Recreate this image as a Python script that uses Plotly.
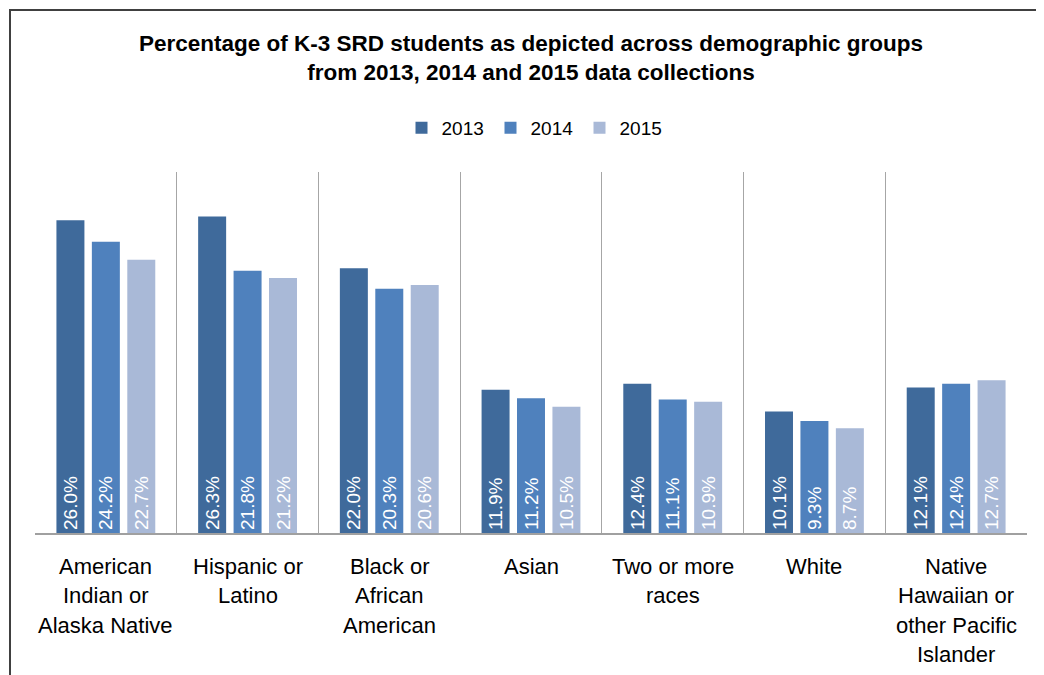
import plotly.graph_objects as go

categories = [
    "American<br>Indian or<br>Alaska Native",
    "Hispanic or<br>Latino",
    "Black or<br>African<br>American",
    "Asian",
    "Two or more<br>races",
    "White",
    "Native<br>Hawaiian or<br>other Pacific<br>Islander",
]
years = ["2013", "2014", "2015"]
values_2013 = [26.0, 26.3, 22.0, 11.9, 12.4, 10.1, 12.1]
values_2014 = [24.2, 21.8, 20.3, 11.2, 11.1, 9.3, 12.4]
values_2015 = [22.7, 21.2, 20.6, 10.5, 10.9, 8.7, 12.7]
colors = ["#3F6A9B", "#4F81BD", "#A9B9D7"]

# page body has an 8px margin, so the figure is sized to fit the window
OFF = 8
W, H = 1044 - OFF, 675 - OFF
ML, MR, MT, MB = 35 - OFF, 17, 172 - OFF, 142
FONT = "Liberation Sans, Arial, sans-serif"

fig = go.Figure()
for name, vals, col in zip(years, [values_2013, values_2014, values_2015], colors):
    fig.add_trace(go.Bar(
        name=name,
        x=categories,
        y=vals,
        marker=dict(color=col, line=dict(width=0)),
        text=[f"{v:.1f}%" for v in vals],
        textposition="inside",
        insidetextanchor="start",
        textangle=-90,
        textfont=dict(color="white", size=19, family=FONT),
        hoverinfo="skip",
    ))

pw = W - ML - MR
ph = H - MT - MB

# category labels, one annotation per line for Excel-like line spacing
annotations = []
LINE_GAP = 29.6
FIRST_LINE = 566 - 533  # px below the axis
for cat in categories:
    for i, line in enumerate(cat.split("<br>")):
        annotations.append(dict(
            x=cat, xref="x", y=0, yref="paper",
            text=line, showarrow=False,
            xanchor="center", yanchor="middle",
            yshift=-(FIRST_LINE + LINE_GAP * i),
            font=dict(size=22, family=FONT, color="#000000"),
        ))

fig.update_layout(
    width=W, height=H,
    margin=dict(l=ML, r=MR, t=MT, b=MB),
    paper_bgcolor="white",
    plot_bgcolor="white",
    barmode="group",
    bargap=0.25,
    bargroupgap=0.21,
    font=dict(family=FONT, color="#000000"),
    title=dict(
        text="<b>Percentage of K-3 SRD students as depicted across demographic groups<br>from 2013, 2014 and 2015 data collections</b>",
        x=(531 - OFF) / W, xanchor="center",
        y=1 - (51 - OFF) / H, yanchor="middle",
        font=dict(size=22.5, family=FONT, color="#000000"),
    ),
    legend=dict(
        orientation="h",
        x=(535 - OFF - ML) / pw, xanchor="center",
        y=1 + (MT - (128 - OFF)) / ph, yanchor="middle",
        font=dict(size=19, family=FONT),
        traceorder="normal",
        entrywidth=44,
        entrywidthmode="pixels",
        bgcolor="rgba(0,0,0,0)",
    ),
    xaxis=dict(
        type="category",
        tickson="boundaries",
        showgrid=True,
        gridcolor="#A6A6A6",
        gridwidth=1,
        showline=True,
        linecolor="#A0A0A0",
        linewidth=2,
        ticks="",
        showticklabels=False,
        fixedrange=True,
    ),
    yaxis=dict(
        range=[0, 30],
        showgrid=False,
        showticklabels=False,
        zeroline=False,
        showline=False,
        fixedrange=True,
    ),
    uniformtext=dict(minsize=19, mode="show"),
    annotations=annotations,
    shapes=[dict(
        type="rect", xref="paper", yref="paper",
        x0=(10 - OFF - ML) / pw, x1=(W + 30 - ML) / pw,
        y0=(H - MB - (H + 30)) / ph, y1=(H - MB - (10 - OFF)) / ph,
        line=dict(color="#404040", width=2),
        fillcolor="rgba(0,0,0,0)",
        layer="below",
    )],
)

fig.write_html("out.html")
